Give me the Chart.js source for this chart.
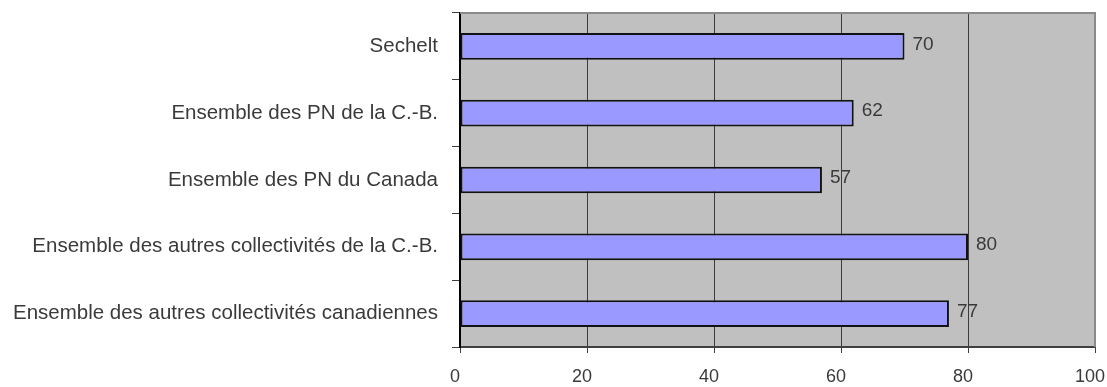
<!DOCTYPE html>
<html>
<head>
<meta charset="utf-8">
<script src="https://cdn.jsdelivr.net/npm/chart.js@4/dist/chart.umd.min.js"></script>
<style>
  html, body { margin: 0; padding: 0; background: #ffffff; }
  #wrap { width: 1107px; height: 387px; }
</style>
</head>
<body>
<div id="wrap"><canvas id="c" width="1107" height="387"></canvas></div>
<script>
const categories = [
  "Sechelt",
  "Ensemble des PN de la C.-B.",
  "Ensemble des PN du Canada",
  "Ensemble des autres collectivités de la C.-B.",
  "Ensemble des autres collectivités canadiennes"
];
const values = [70, 62, 57, 80, 77];
const xTicks = [0, 20, 40, 60, 80, 100];

const FONT = "'Liberation Sans', Arial, sans-serif";

// Grey plot background with a thin outer frame
const plotFrame = {
  id: 'plotFrame',
  beforeDraw(chart) {
    const { ctx, chartArea: a } = chart;
    ctx.save();
    ctx.fillStyle = '#c0c0c0';
    ctx.fillRect(a.left, a.top, a.right - a.left, a.bottom - a.top);
    ctx.restore();
  },
  afterDatasetsDraw(chart) {
    const { ctx, chartArea: a } = chart;
    ctx.save();
    ctx.strokeStyle = '#8a8a8a';
    ctx.lineWidth = 2;
    ctx.beginPath();
    ctx.moveTo(a.left, a.top);
    ctx.lineTo(a.right, a.top);
    ctx.lineTo(a.right, a.bottom);
    ctx.stroke();
    ctx.restore();
  }
};

// Value printed just past the end of each bar
const valueLabels = {
  id: 'valueLabels',
  afterDatasetsDraw(chart) {
    const { ctx } = chart;
    const meta = chart.getDatasetMeta(0);
    const data = chart.data.datasets[0].data;
    ctx.save();
    ctx.fillStyle = '#3a3a3a';
    ctx.font = '19px ' + FONT;
    ctx.textAlign = 'left';
    ctx.textBaseline = 'middle';
    meta.data.forEach((bar, i) => {
      ctx.fillText(String(data[i]), bar.x + 8, bar.y - 2);
    });
    ctx.restore();
  }
};

new Chart(document.getElementById('c'), {
  type: 'bar',
  data: {
    labels: categories,
    datasets: [{
      data: values,
      backgroundColor: '#9999ff',
      borderColor: '#111111',
      borderWidth: 2,
      borderSkipped: false,
      barPercentage: 0.4,
      categoryPercentage: 1.0
    }]
  },
  options: {
    indexAxis: 'y',
    responsive: false,
    animation: false,
    layout: { padding: { left: 0, right: 12, top: 13, bottom: 0 } },
    plugins: {
      legend: { display: false },
      tooltip: { enabled: false }
    },
    scales: {
      x: {
        min: 0,
        max: 100,
        afterBuildTicks(scale) {
          scale.ticks = xTicks.map(v => ({ value: v }));
        },
        afterFit(scale) {
          scale.height = 40;
          scale.paddingLeft = 0;
          scale.paddingRight = 0;
        },
        border: { display: true, color: '#404040', width: 2 },
        grid: {
          color: '#3c3c3c',
          lineWidth: 1,
          drawTicks: true,
          tickLength: 6,
          tickColor: '#404040'
        },
        ticks: {
          color: '#3a3a3a',
          font: { family: FONT, size: 18 },
          padding: 13,
          labelOffset: -5,
          maxRotation: 0
        }
      },
      y: {
        afterFit(scale) {
          scale.width = 460;
          scale.paddingTop = 0;
          scale.paddingBottom = 0;
        },
        border: { display: true, color: '#000000', width: 2 },
        grid: {
          offset: true,
          drawOnChartArea: false,
          drawTicks: true,
          tickLength: 8,
          tickColor: '#404040'
        },
        ticks: {
          color: '#3a3a3a',
          font: { family: FONT, size: 20.5 },
          padding: 14,
          crossAlign: 'near'
        }
      }
    }
  },
  plugins: [plotFrame, valueLabels]
});
</script>
</body>
</html>
